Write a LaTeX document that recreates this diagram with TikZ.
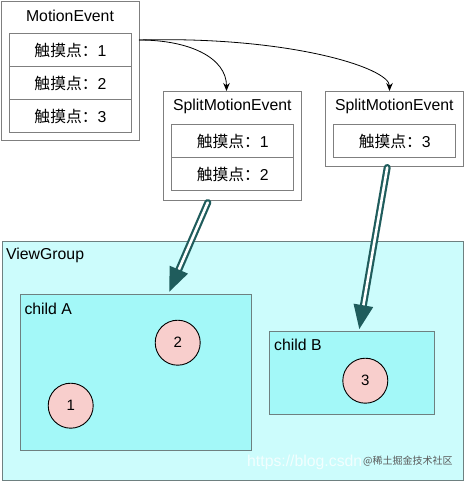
\documentclass[tikz,border=0pt]{standalone}
\usepackage{fontspec}
\setmainfont{Liberation Sans}
\newfontfamily\cjk{Noto Sans CJK SC}
\usetikzlibrary{arrows.meta,calc}
\definecolor{boxline}{HTML}{7F7F7F}
\definecolor{vgfill}{HTML}{CCFCFC}
\definecolor{chfill}{HTML}{A3F8F8}
\definecolor{vgline}{HTML}{6E8080}
\definecolor{dot}{HTML}{F8CECC}
\definecolor{bigarrow}{HTML}{1F5C5C}
\begin{document}
\begin{tikzpicture}[x=1pt,y=-1pt,
  font=\fontsize{15.8}{18}\selectfont,
  box/.style={draw=boxline, line width=0.9pt, fill=white, rectangle, inner sep=0pt, anchor=north west},
  row/.style={box, minimum width=122pt, minimum height=33pt},
  region/.style={draw=vgline, line width=0.9pt, rectangle, inner sep=0pt, anchor=north west},
  touch/.style={circle, draw=black, line width=0.9pt, fill=dot, minimum size=45pt, inner sep=0pt, font=\fontsize{15}{18}\selectfont},
  thin arrow/.style={draw=black, line width=0.8pt, -{Stealth[length=8pt,width=6.5pt]}},
  shaft/.style={draw=bigarrow, line width=2.2pt, double=white, double distance=2.6pt, line cap=round},
  label/.style={anchor=west, inner sep=0pt}
]
\useasboundingbox (0,0) rectangle (464,481);
\fill[white] (0,0) rectangle (464,481);

% MotionEvent
\node[box, minimum width=138pt, minimum height=139pt] (me) at (1,1) {};
\node (metitle) at (70,15.5) {MotionEvent};
\node[row] (mer1) at (9,33.3) {{\cjk 触摸点：}1};
\node[row] (mer2) at (9,66.3) {{\cjk 触摸点：}2};
\node[row] (mer3) at (9,99.3) {{\cjk 触摸点：}3};

% SplitMotionEvent 1
\node[box, minimum width=138pt, minimum height=109pt] (sa) at (163.3,91.3) {};
\node (satitle) at (232.3,106) {SplitMotionEvent};
\node[row] (sar1) at (171.3,124.3) {{\cjk 触摸点：}1};
\node[row] (sar2) at (171.3,157.3) {{\cjk 触摸点：}2};

% SplitMotionEvent 2
\node[box, minimum width=138pt, minimum height=75pt] (sb) at (325.3,91.3) {};
\node (sbtitle) at (394.3,106) {SplitMotionEvent};
\node[row] (sbr1) at (333.3,124.3) {{\cjk 触摸点：}3};

% curved connectors
\coordinate (mout) at (139,40);
\coordinate (sain) at (226.5,91);
\coordinate (sbin) at (389.5,91);
\draw[thin arrow] (mout) .. controls (190,40) and (226.5,58) .. (sain);
\draw[thin arrow] (mout) .. controls (290,36) and (389.5,68) .. (sbin);

% ViewGroup
\node[region, fill=vgfill, minimum width=461.5pt, minimum height=239.5pt] (vg) at (1.7,240.7) {};
\node[label] (vgtitle) at (6,255) {ViewGroup};

\node[region, fill=chfill, minimum width=231.3pt, minimum height=156pt] (ca) at (19.7,294.3) {};
\node[label] (catitle) at (24.3,309) {child A};

\node[region, fill=chfill, minimum width=165pt, minimum height=82.7pt] (cb) at (269.3,331.3) {};
\node[label] (cbtitle) at (274,344.5) {child B};

\node[touch] (t2) at (177.7,342.7) {2};
\node[touch] (t1) at (70.7,405.7) {1};
\node[touch] (t3) at (365.3,380.7) {3};

% watermark
\node[label, text=white, opacity=0.75, font=\fontsize{15.8}{18}\selectfont] (wm1) at (247,462) {https://blog.csdn};
\node[label, text=black!65, font=\cjk\fontsize{10}{12}\selectfont] (wm2) at (363,461) {@稀土掘金技术社区};

% thick arrows
\coordinate (a1s) at (207.8,202.5);
\coordinate (a1t) at (169.3,291.7);
\coordinate (a1b) at ($(a1t)!24pt!(a1s)$);
\draw[shaft] (a1s) -- ($(a1t)!22pt!(a1s)$);
\fill[bigarrow] (a1t) -- ($(a1b)!10pt!90:(a1t)$) -- ($(a1b)!10pt!-90:(a1t)$) -- cycle;

\coordinate (a2s) at (387.2,167.5);
\coordinate (a2t) at (359.3,329);
\coordinate (a2b) at ($(a2t)!24pt!(a2s)$);
\draw[shaft] (a2s) -- ($(a2t)!22pt!(a2s)$);
\fill[bigarrow] (a2t) -- ($(a2b)!10pt!90:(a2t)$) -- ($(a2b)!10pt!-90:(a2t)$) -- cycle;
\end{tikzpicture}
\end{document}
